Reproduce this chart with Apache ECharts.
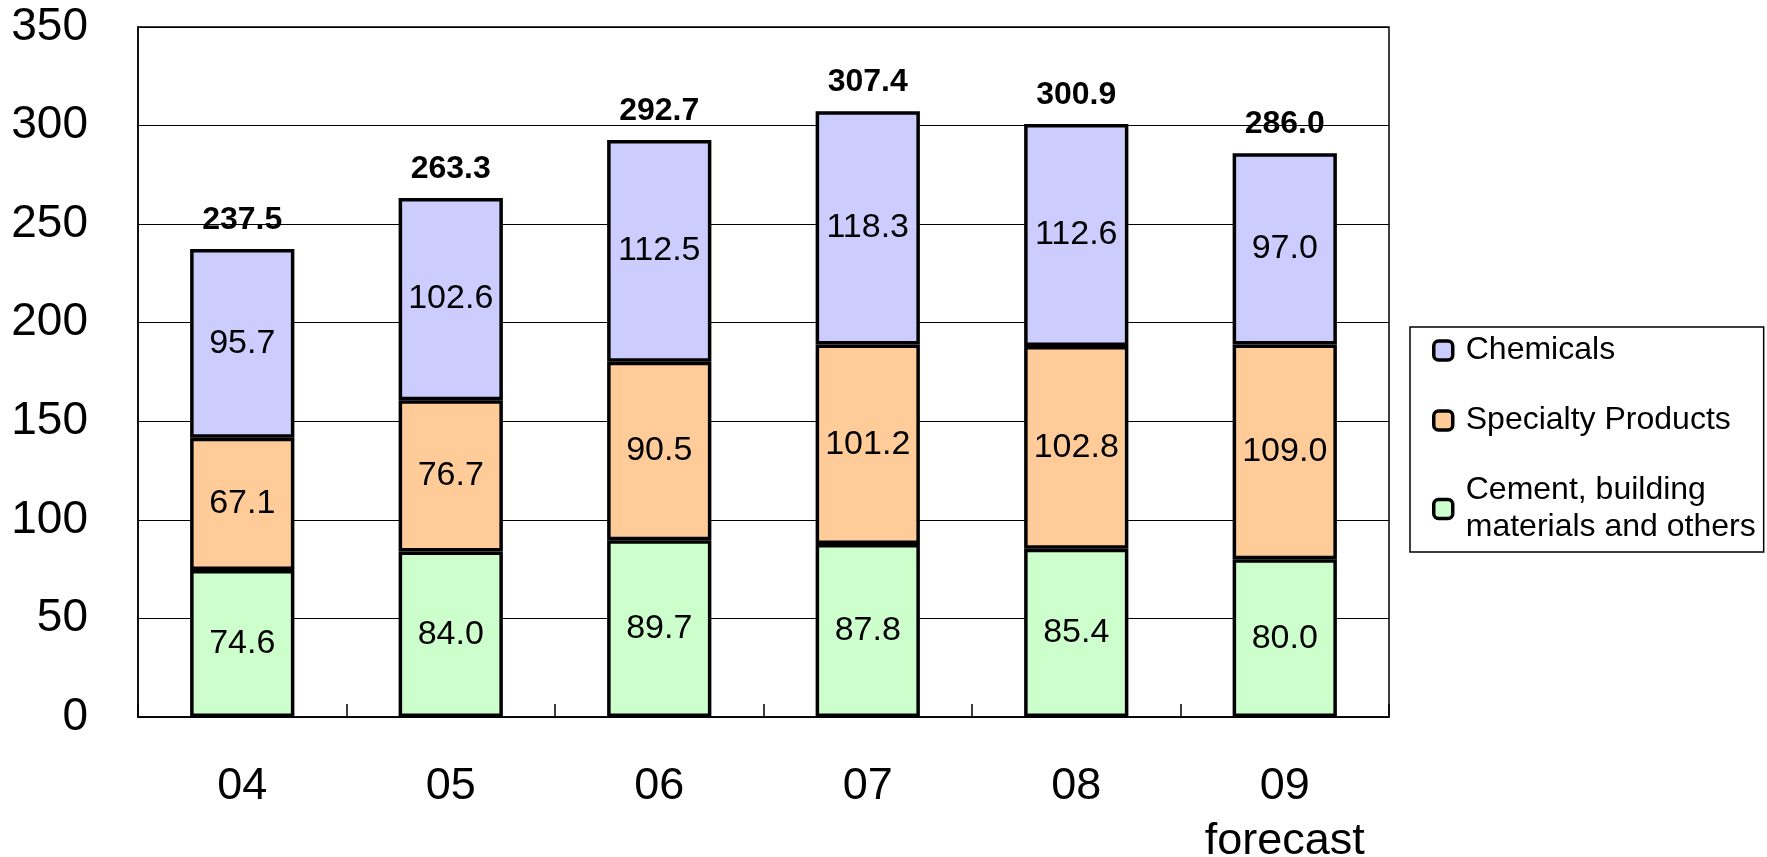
<!DOCTYPE html>
<html>
<head>
<meta charset="utf-8">
<script src="https://cdn.jsdelivr.net/npm/echarts@6/dist/echarts.min.js"></script>
<style>
  html, body { margin: 0; padding: 0; background: #fff; }
  #chart { width: 1767px; height: 857px; }
</style>
</head>
<body>
<div id="chart"></div>
<script>
  var years = ['04', '05', '06', '07', '08', '09\nforecast']
  var cement = [74.6, 84.0, 89.7, 87.8, 85.4, 80.0]
  var specialty = [67.1, 76.7, 90.5, 101.2, 102.8, 109.0]
  var chemicals = [95.7, 102.6, 112.5, 118.3, 112.6, 97.0]
  var totals = [237.5, 263.3, 292.7, 307.4, 300.9, 286.0]

  var font = 'Liberation Sans, Arial, sans-serif'
  var chart = echarts.init(document.getElementById('chart'))

  function barSeries(name, data, color) {
    return {
      name: name,
      type: 'bar',
      stack: 'total',
      barWidth: '50%',
      data: data,
      itemStyle: {
        color: color,
        borderColor: '#000',
        borderWidth: 3.5
      },
      label: {
        show: true,
        position: 'inside',
        color: '#000',
        fontFamily: font,
        fontSize: 34,
        formatter: function (p) { return p.value.toFixed(1) }
      }
    }
  }

  chart.setOption({
    animation: false,
    grid: {
      left: 138,
      right: 378,
      top: 27,
      bottom: 140,
      outerBoundsMode: 'none',
      show: true,
      borderColor: '#000',
      borderWidth: 1.5
    },
    legend: {
      orient: 'vertical',
      left: 1410,
      top: 327,
      padding: [5, 8, 6, 22],
      itemGap: 33,
      itemWidth: 19,
      itemHeight: 19,
      itemStyle: { borderColor: '#000', borderWidth: 3.5 },
      borderColor: '#000',
      borderWidth: 1.5,
      backgroundColor: '#fff',
      textStyle: {
        fontFamily: font,
        fontSize: 32,
        color: '#000',
        lineHeight: 37,
        padding: [0, 0, 0, 8]
      },
      data: ['Chemicals', 'Specialty Products', 'Cement, building\nmaterials and others']
    },
    xAxis: {
      type: 'category',
      data: years,
      axisLine: { lineStyle: { color: '#000', width: 1.5 } },
      axisTick: { show: true, inside: true, length: 13, lineStyle: { color: '#000', width: 1.5 } },
      axisLabel: {
        color: '#000',
        fontFamily: font,
        fontSize: 45,
        lineHeight: 55,
        margin: 42
      }
    },
    yAxis: {
      type: 'value',
      min: 0,
      max: 350,
      interval: 50,
      axisLine: { show: true, lineStyle: { color: '#000', width: 1.5 } },
      axisTick: { show: false },
      splitLine: { show: true, lineStyle: { color: '#000', width: 1.2 } },
      axisLabel: {
        color: '#000',
        fontFamily: font,
        fontSize: 46,
        margin: 50,
        padding: [22, 0, 0, 0]
      }
    },
    series: [
      barSeries('Cement, building\nmaterials and others', cement, '#CCFFCC'),
      barSeries('Specialty Products', specialty, '#FFCC99'),
      barSeries('Chemicals', chemicals, '#CCCCFF'),
      {
        name: 'total',
        type: 'scatter',
        data: totals,
        symbolSize: 0,
        silent: true,
        z: 5,
        itemStyle: { opacity: 1 },
        label: {
          show: true,
          position: 'top',
          distance: 13,
          color: '#000',
          opacity: 1,
          textBorderWidth: 0,
          fontFamily: font,
          fontSize: 32,
          fontWeight: 'bold',
          formatter: function (p) { return p.value.toFixed(1) }
        }
      }
    ]
  })
</script>
</body>
</html>
